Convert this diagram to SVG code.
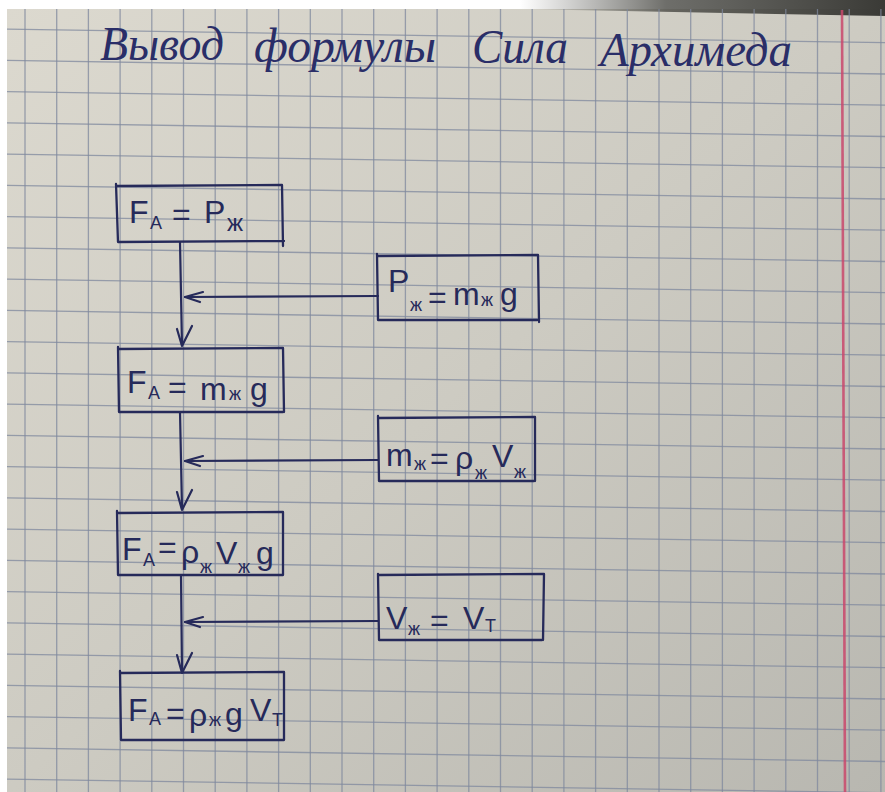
<svg xmlns="http://www.w3.org/2000/svg" width="885" height="792" viewBox="0 0 885 792">
<defs>
<linearGradient id="paper" x1="0" y1="0" x2="1" y2="1">
<stop offset="0" stop-color="#dcd9cf"/>
<stop offset="0.5" stop-color="#cdcbc2"/>
<stop offset="1" stop-color="#b8b7b0"/>
</linearGradient>
<linearGradient id="topband" x1="0" y1="0" x2="1" y2="0">
<stop offset="0" stop-color="#5a5a55" stop-opacity="0"/>
<stop offset="0.4" stop-color="#4a4a45" stop-opacity="0.8"/>
<stop offset="1" stop-color="#3a3a36"/>
</linearGradient>
<style>
.grid{stroke:#7f889e;stroke-width:1.3;stroke-opacity:0.75;fill:none}
.box{fill:none;stroke:#262a5a;stroke-width:2.3;stroke-linecap:round;stroke-linejoin:round}
.ink{fill:none;stroke:#262a5a;stroke-width:2.2;stroke-linecap:round;stroke-linejoin:round}
.f{font-family:"Liberation Sans","DejaVu Sans",sans-serif;font-size:32px;fill:#262a5a}
.s{font-size:18px}
.z{font-size:24px}
.title{font-family:"Liberation Serif","DejaVu Serif",serif;font-style:italic;font-size:48px;fill:#2a2e68}
</style>
</defs>
<rect x="0" y="0" width="885" height="792" fill="#ffffff"/>
<rect x="7" y="9" width="878" height="783" fill="url(#paper)"/>
<path d="M520,0 L885,0 L885,16 L520,9 Z" fill="url(#topband)"/>
<g id="grid" class="grid">
<path d="M25,9V792M56.7,9V792M88.4,9V792M120.1,9V792M151.8,9V792M183.5,9V792M215.2,9V792M246.9,9V792M278.6,9V792M310.3,9V792M342,9V792M373.7,9V792M405.4,9V792M437.1,9V792M468.8,9V792M500.5,9V792M532.2,9V792M563.9,9V792M595.6,9V792M627.3,9V792M659,9V792M690.7,9V792M722.4,9V792M754.1,9V792M785.8,9V792M817.5,9V792M849.2,9V792M880.9,9V792"/>
<path d="M7,29.1L885,42.7M7,60.4L885,74M7,91.6L885,105.2M7,122.9L885,136.5M7,154.1L885,167.7M7,185.4L885,199M7,216.6L885,230.2M7,247.9L885,261.5M7,279.1L885,292.7M7,310.4L885,324M7,341.6L885,355.2M7,372.9L885,386.5M7,404.1L885,417.7M7,435.4L885,449M7,466.6L885,480.2M7,497.9L885,511.5M7,529.1L885,542.7M7,560.4L885,574M7,591.6L885,605.2M7,622.9L885,636.5M7,654.1L885,667.7M7,685.4L885,699M7,716.6L885,730.2M7,747.9L885,761.5M7,779.1L885,792.7"/>
</g>
<line x1="842" y1="10" x2="845" y2="792" stroke="#c9486c" stroke-width="2.6" stroke-opacity="0.85"/>
<g id="title">
<text class="title" x="100" y="60" textLength="124" lengthAdjust="spacingAndGlyphs">Вывод</text>
<text class="title" x="254" y="62" textLength="182" lengthAdjust="spacingAndGlyphs">формулы</text>
<text class="title" x="472" y="63" textLength="96" lengthAdjust="spacingAndGlyphs">Сила</text>
<text class="title" x="600" y="66" textLength="192" lengthAdjust="spacingAndGlyphs">Архимеда</text>
</g>
<g id="connectors">
<path class="ink" d="M180,242 L182,345"/>
<path class="ink" d="M177,329 L182,346 L192,326"/>
<path class="ink" d="M378,296 L185,297"/>
<path class="ink" d="M203,292 L185,297 L200,302"/>
<path class="ink" d="M180,412 L182,508"/>
<path class="ink" d="M177,492 L182,510 L192,490"/>
<path class="ink" d="M378,460 L185,461"/>
<path class="ink" d="M203,456 L185,461 L200,466"/>
<path class="ink" d="M181,575 L182,671"/>
<path class="ink" d="M177,655 L182,673 L192,653"/>
<path class="ink" d="M378,621 L185,622"/>
<path class="ink" d="M203,617 L185,622 L200,627"/>
</g>
<g id="n1">
<path class="box" d="M117,186 L282,185 L283,246 M116,184 L118,242 L284,241"/>
<text class="f"><tspan x="129" y="223">F</tspan><tspan class="s" x="150" y="229">A</tspan><tspan x="172" y="225">=</tspan><tspan x="204" y="223">P</tspan><tspan class="z" x="227" y="231">ж</tspan></text>
</g>
<g id="n2">
<path class="box" d="M377,256 L538,255 L539,322 M377,254 L378,320 L537,320"/>
<text class="f"><tspan x="388" y="292">P</tspan><tspan class="s" x="410" y="311">ж</tspan><tspan x="428" y="308">=</tspan><tspan x="453" y="305">m</tspan><tspan class="s" x="481" y="306">ж</tspan><tspan x="500" y="305">g</tspan></text>
</g>
<g id="n3">
<path class="box" d="M118,349 L283,348 L284,412 M118,347 L119,412 L283,412"/>
<text class="f"><tspan x="127" y="393">F</tspan><tspan class="s" x="148" y="399">A</tspan><tspan x="168" y="398">=</tspan><tspan x="200" y="400">m</tspan><tspan class="s" x="229" y="400">ж</tspan><tspan x="250" y="400">g</tspan></text>
</g>
<g id="n4">
<path class="box" d="M378,418 L535,417 L535,481 M378,416 L379,481 L534,481"/>
<text class="f"><tspan x="386" y="466">m</tspan><tspan class="s" x="414" y="470">ж</tspan><tspan x="430" y="469">=</tspan><tspan x="455" y="469">ρ</tspan><tspan class="s" x="475" y="479">ж</tspan><tspan x="492" y="467">V</tspan><tspan class="s" x="514" y="478">ж</tspan></text>
</g>
<g id="n5">
<path class="box" d="M118,513 L283,512 L283,575 M117,511 L118,575 L283,575"/>
<text class="f"><tspan x="122" y="560">F</tspan><tspan class="s" x="143" y="566">A</tspan><tspan x="158" y="558">=</tspan><tspan x="181" y="563">ρ</tspan><tspan class="s" x="200" y="573">ж</tspan><tspan x="216" y="564">V</tspan><tspan class="s" x="238" y="573">ж</tspan><tspan x="256" y="564">g</tspan></text>
</g>
<g id="n6">
<path class="box" d="M378,575 L544,574 L543,640 M378,574 L379,640 L542,640"/>
<text class="f"><tspan x="386" y="629">V</tspan><tspan class="s" x="408" y="635">ж</tspan><tspan x="430" y="631">=</tspan><tspan x="463" y="629">V</tspan><tspan class="s" x="485" y="632">T</tspan></text>
</g>
<g id="n7">
<path class="box" d="M120,673 L284,672 L284,740 M120,671 L121,740 L284,740"/>
<text class="f"><tspan x="128" y="721">F</tspan><tspan class="s" x="149" y="725">A</tspan><tspan x="166" y="724">=</tspan><tspan x="189" y="726">ρ</tspan><tspan class="s" x="209" y="726">ж</tspan><tspan x="225" y="725">g</tspan><tspan x="250" y="721">V</tspan><tspan class="s" x="272" y="726">T</tspan></text>
</g>
</svg>
